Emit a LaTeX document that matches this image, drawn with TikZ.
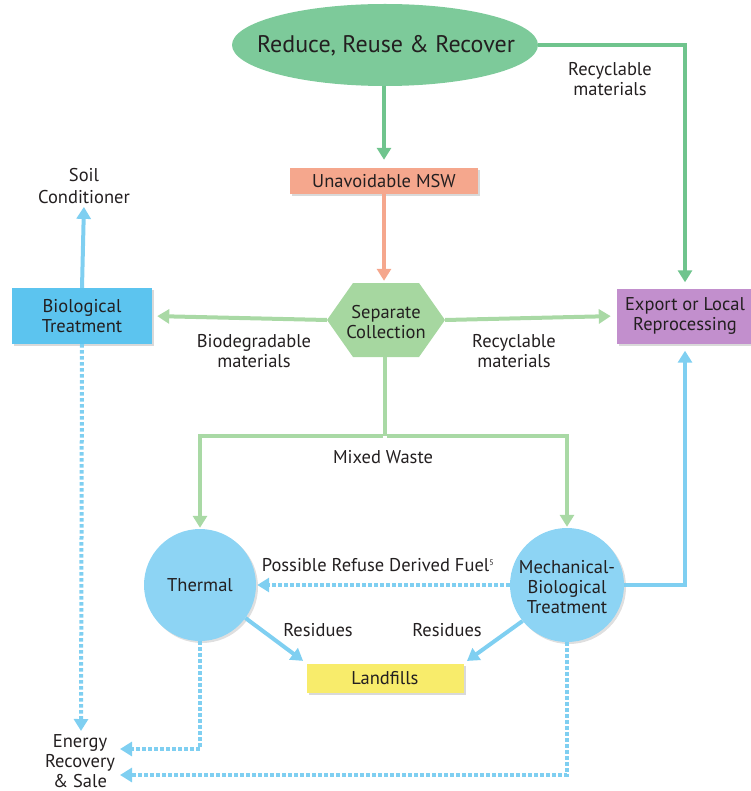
\documentclass[tikz,border=0pt]{standalone}
\usepackage{fontspec}
\setmainfont{PT Sans}
\usetikzlibrary{shapes.geometric,arrows.meta,shadows}
\definecolor{ellgreen}{HTML}{7DCA9A}
\definecolor{dkgreen}{HTML}{6FC48D}
\definecolor{ltgreen}{HTML}{A9D9A5}
\definecolor{hexgreen}{HTML}{A6D7A0}
\definecolor{salmon}{HTML}{F5A78D}
\definecolor{biobox}{HTML}{5CC4EF}
\definecolor{circblue}{HTML}{8DD4F4}
\definecolor{arrblue}{HTML}{7FCFF1}
\definecolor{purplebox}{HTML}{C28FCD}
\definecolor{yellowbox}{HTML}{F8EC6B}
\definecolor{txt}{HTML}{231F20}
\begin{document}
\begin{tikzpicture}[x=1pt,y=-1pt,
  every node/.style={text=txt, font=\fontsize{18.5}{20}\selectfont},
  tip/.style={-{Triangle[width=14pt,length=12pt]}},
  gline/.style={draw=dkgreen, line width=4pt},
  lgline/.style={draw=ltgreen, line width=4pt},
  sline/.style={draw=salmon, line width=4pt},
  bline/.style={draw=arrblue, line width=4pt},
  bdot/.style={draw=arrblue, line width=4pt, dash pattern=on 3.5pt off 2.5pt},
  boxstyle/.style={rectangle, inner sep=0pt, align=center,
     drop shadow={opacity=0.3, shadow xshift=2pt, shadow yshift=-2pt}},
  circstyle/.style={circle, fill=circblue, inner sep=0pt,
     drop shadow={opacity=0.25, shadow xshift=2pt, shadow yshift=-2pt}},
  label/.style={align=center, inner sep=0pt}
]
\useasboundingbox (0,0) rectangle (750,791);

% nodes
\node[ellipse, fill=ellgreen, minimum width=306pt, minimum height=82pt, inner sep=0pt] (rrr) at (385,45) {};
\node[label, font=\fontsize{24}{26}\selectfont] (rrrtext) at (386,46) {Reduce, Reuse \& Recover};
\node[boxstyle, fill=salmon, minimum width=188pt, minimum height=26pt] (msw) at (384,181) {Unavoidable MSW};

\node[inner sep=0pt, minimum width=118pt, minimum height=74pt] (hex) at (386,320) {};
\fill[hexgreen] (327,320) -- (353,283) -- (419,283) -- (445,320) -- (419,357) -- (353,357) -- cycle;
\node[label] (hextext) at (386,322) {Separate\\Collection};

\node[boxstyle, fill=biobox, minimum width=140pt, minimum height=56pt] (bio) at (82,316) {Biological\\Treatment};
\node[boxstyle, fill=purplebox, minimum width=136pt, minimum height=55pt] (exp) at (685,316) {Export or Local\\Reprocessing};

\node[circstyle, minimum size=112pt] (th) at (200,585) {};
\node[label] (thtext) at (200,585) {Thermal};
\node[circstyle, minimum size=114pt] (mbt) at (567,585) {};
\node[label] (mbttext) at (567,587) {Mechanical-\\Biological\\Treatment};
\node[boxstyle, fill=yellowbox, minimum width=157pt, minimum height=29pt] (lf) at (385,678) {Landfills};

\node[label, font=\fontsize{18.5}{22}\selectfont] (soil) at (84,186) {Soil\\Conditioner};
\node[label, font=\fontsize{18.5}{20}\selectfont] (energy) at (80,761) {Energy\\Recovery\\\& Sale};

% labels
\node[label] (lrec1) at (610,79) {Recyclable\\materials};
\node[label] (lbio) at (254,351) {Biodegradable\\materials};
\node[label] (lrec2) at (514,351) {Recyclable\\materials};
\node[label] (lmix) at (383,457) {Mixed Waste};
\node[label] (lrdf) at (378,565) {Possible Refuse Derived Fuel\textsuperscript{\fontsize{8}{9}\selectfont 5}};
\node[label] (lres1) at (318,630) {Residues};
\node[label] (lres2) at (447,630) {Residues};

\coordinate (mix) at (385,436);
\coordinate (entop) at (81,731);
\coordinate (en1) at (120,749);
\coordinate (en2) at (120,775);

% connectors
\draw[gline, tip, shorten >=8pt] (rrr.south -| msw.north) -- (msw.north);
\draw[gline, tip, shorten >=6pt] (rrr.east) -| (exp.north);
\draw[sline, tip, shorten >=2pt] (msw.south) -- (msw.south |- hex.north);
\draw[lgline, tip, shorten >=5pt] (hex.west) -- (bio.east);
\draw[lgline, tip, shorten >=6pt] (hex.east) -- (exp.west);
\draw[lgline] (hex.south -| mix) -- (mix);
\draw[lgline, tip, shorten >=1pt] ([xshift=-2pt]mix) -| (th.north);
\draw[lgline, tip, shorten >=1pt] ([xshift=2pt]mix) -| (mbt.north);
\draw[bline, tip, shorten >=3pt] (bio.north) -- (soil.south);
\draw[bdot, tip, shorten >=1pt] (mbt.west) -- (th.east);
\draw[bline, tip, shorten >=7pt] (mbt.east) -| (exp.south);
\draw[bline, tip, shorten >=4pt] (th.-36) -- (lf.north west);
\draw[bline, tip, shorten >=4pt] (mbt.-141) -- (lf.north east);
\draw[bdot, tip] (bio.south) -- (entop);
\draw[bdot, tip] (th.south) |- (en1);
\draw[bdot, tip] (mbt.south) |- (en2);
\end{tikzpicture}
\end{document}
